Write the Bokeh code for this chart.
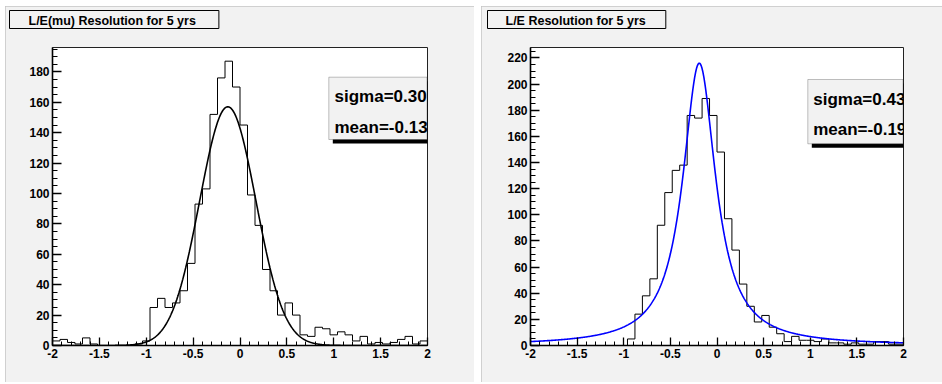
import numpy as np
from bokeh.plotting import figure
from bokeh.layouts import row, column
from bokeh.models import (SingleIntervalTicker, Label, BoxAnnotation, Spacer,
                          Range1d, CustomJSTickFormatter, Title)
from bokeh.embed import file_html
from bokeh.resources import INLINE

# ---------------- data ----------------
bin_lo, bin_hi, n_bins = -2.0, 2.0, 50

left_title = "L/E(mu) Resolution for 5 yrs"
left_counts = [3, 4, 2, 1, 5, 1, 0, 0, 0, 0, 0, 1, 3,
               25, 31, 25, 28, 36, 54, 93, 103, 152, 176, 187, 170, 145, 99, 79, 50, 36, 20, 28, 20,
               7, 6, 12, 11, 7, 9, 7, 3, 6, 1, 2, 1, 2, 4, 6, 1, 3]
left_fit_amp, left_fit_mean, left_fit_sigma = 157.0, -0.13, 0.30
left_stats = ["sigma=0.30", "mean=-0.13"]
left_ymax = 196

right_title = "L/E Resolution for 5 yrs"
right_counts = [0, 0, 0, 0, 0, 0, 0, 0, 0, 0, 0, 0, 0,
                5, 24, 38, 51, 92, 117, 134, 138, 176, 174, 189, 176, 148, 97, 73, 47, 30, 18, 23,
                14, 9, 3, 7, 4, 4, 3, 5, 2, 2, 1, 2, 1, 1, 3, 3, 1, 1]
right_fit_amp, right_fit_mean, right_fit_gamma = 216.0, -0.19, 0.43
right_stats = ["sigma=0.43", "mean=-0.19"]
right_ymax = 228

BG = "#f2f2f2"
FONT = "Liberation Sans"
H = 376


def make_panel(width, bl, br, ymax, counts, fit_y, fit_color, title, stats,
               title_offset, title_pad, stat_box, stat_text_x, stat_baselines):
    p = figure(width=width, height=H, x_range=Range1d(bin_lo, bin_hi),
               y_range=Range1d(0, ymax), output_backend="svg",
               toolbar_location=None, min_border_left=bl, min_border_right=br,
               min_border_top=37, min_border_bottom=37)
    p.styles = {"outline": "1px solid #c4c4c4", "outline-offset": "-1px"}
    p.background_fill_alpha = 0
    p.border_fill_color = BG
    p.outline_line_color = "#222222"
    p.outline_line_width = 1
    p.grid.visible = False

    p.title = Title(text=title, align="left", offset=title_offset, vertical_align="bottom",
                    standoff=4, text_font=FONT, text_font_style="bold",
                    text_font_size="12.5px", text_color="black",
                    background_fill_color=BG, border_line_color="black",
                    border_line_width=1, padding=title_pad)
    # empty gap between the title box and the frame
    p.add_layout(Title(text=" ", text_font_size="1px", standoff=14), "above")

    p.xaxis.ticker = SingleIntervalTicker(interval=0.5, num_minor_ticks=5)
    p.yaxis.ticker = SingleIntervalTicker(interval=20, num_minor_ticks=4)
    p.xaxis.formatter = CustomJSTickFormatter(code="return String(Math.round(tick*10)/10)")
    for ax in (p.xaxis[0], p.yaxis[0]):
        ax.axis_line_color = "black"
        ax.axis_line_width = 1.6
        ax.major_tick_line_color = "black"
        ax.minor_tick_line_color = "black"
        ax.major_tick_line_width = 1.3
        ax.minor_tick_line_width = 1.0
        ax.major_tick_out = 0
        ax.minor_tick_out = 0
        ax.major_label_text_font = FONT
        ax.major_label_text_font_style = "bold"
        ax.major_label_text_font_size = "12px"
        ax.major_label_text_color = "black"
    p.xaxis.major_tick_in = 8
    p.xaxis.minor_tick_in = 4
    p.yaxis.major_tick_in = 9
    p.yaxis.minor_tick_in = 5
    p.xaxis.major_label_standoff = 3
    p.yaxis.major_label_standoff = 3

    edges = np.linspace(bin_lo, bin_hi, n_bins + 1)
    xs = np.concatenate([[bin_lo], edges])
    ys = np.concatenate([[0], np.asarray(counts, float), [counts[-1]]])
    p.step(xs, ys, mode="after", line_color="black", line_width=1)

    fx = np.linspace(bin_lo, bin_hi, 801)
    p.line(fx, fit_y(fx), line_color=fit_color, line_width=1.6)

    # stats box with shadow
    l, r, t, b = stat_box
    p.add_layout(BoxAnnotation(left=l + 4, right=r + 4, top=t - 4, bottom=b - 4,
                               left_units="screen", right_units="screen",
                               top_units="screen", bottom_units="screen",
                               fill_color="black", fill_alpha=1.0, line_alpha=0))
    p.add_layout(BoxAnnotation(left=l, right=r, top=t, bottom=b,
                               left_units="screen", right_units="screen",
                               top_units="screen", bottom_units="screen",
                               fill_color=BG, fill_alpha=1.0,
                               line_color="#333333", line_width=1))
    for txt, yb in zip(stats, stat_baselines):
        p.add_layout(Label(x=stat_text_x, y=yb, x_units="screen", y_units="screen",
                           text=txt, text_font=FONT, text_font_style="bold",
                           text_font_size="17px", text_baseline="alphabetic",
                           text_color="black"))
    return p


def gauss(x):
    return left_fit_amp * np.exp(-0.5 * ((x - left_fit_mean) / left_fit_sigma) ** 2)


def breit_wigner(x):
    h = (right_fit_gamma / 2.0) ** 2
    return right_fit_amp * h / ((x - right_fit_mean) ** 2 + h)


p1 = make_panel(469, 47, 47, left_ymax, left_counts, gauss, "black", left_title, left_stats,
                title_offset=-43, title_pad=dict(left=19, right=23, top=3, bottom=1),
                stat_box=(276.3, 374.5, 268.3, 206), stat_text_x=282,
                stat_baselines=(249, 218))
p2 = make_panel(461, 49, 39, right_ymax, right_counts, breit_wigner, "#0000ff", right_title,
                right_stats,
                title_offset=-43, title_pad=dict(left=18, right=20, top=3, bottom=1),
                stat_box=(277.3, 372.5, 266, 201.7), stat_text_x=282.7,
                stat_baselines=(246, 216))

layout = column(Spacer(width=942, height=6),
                row(Spacer(width=5, height=H), p1, Spacer(width=7, height=H), p2))
open("out.html", "w").write(file_html(layout, INLINE))
